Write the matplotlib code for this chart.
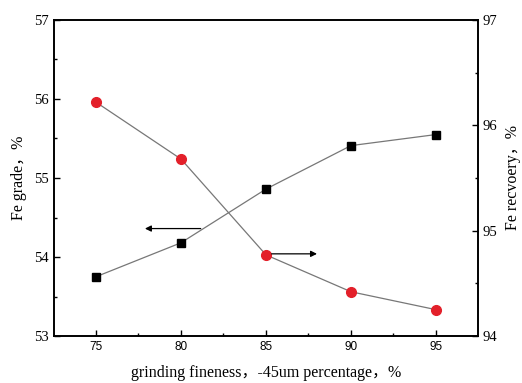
"""
Fe grade / Fe recovery versus grinding fineness, two y axes.
"""

import matplotlib
matplotlib.use("Agg")
import matplotlib.pyplot as plt
from matplotlib.ticker import MultipleLocator

# datos
fineness = [75, 80, 85, 90, 95]
fe_grade = [53.75, 54.18, 54.86, 55.41, 55.55]
fe_recovery = [96.22, 95.68, 94.77, 94.42, 94.25]

SERIF = ["Liberation Serif", "Noto Sans CJK SC"]
SANS = ["Liberation Sans"]

fig = plt.figure(figsize=(5.22, 3.83), dpi=100)
ax = fig.add_axes([0.1034, 0.1227, 0.8123, 0.8251])
ax2 = ax.twinx()

ax.plot(fineness, fe_grade, color="#777777", lw=0.9, marker="s", ms=5.8,
        mfc="black", mec="black", zorder=3)
ax2.plot(fineness, fe_recovery, color="#777777", lw=0.9, marker="o", ms=7,
         mfc="#e3202a", mec="#e3202a", zorder=3)

ax.set_xlim(72.53, 97.47)
ax.set_ylim(53, 57)
ax2.set_ylim(94, 97)

ax.xaxis.set_major_locator(MultipleLocator(5))
ax.xaxis.set_minor_locator(MultipleLocator(2.5))
ax.yaxis.set_major_locator(MultipleLocator(1))
ax.yaxis.set_minor_locator(MultipleLocator(0.5))
ax2.yaxis.set_major_locator(MultipleLocator(1))
ax2.yaxis.set_minor_locator(MultipleLocator(0.5))

for a in (ax, ax2):
    a.tick_params(which="major", direction="in", length=4.5, width=1.0)
    a.tick_params(which="minor", direction="in", length=2.5, width=1.0)
    for s in a.spines.values():
        s.set_linewidth(1.2)
ax.tick_params(axis="x", which="both", top=False)

for lab in ax.get_xticklabels():
    lab.set_fontfamily(SANS)
    lab.set_fontsize(8.5)
for lab in ax.get_yticklabels() + ax2.get_yticklabels():
    lab.set_fontfamily(SERIF)
    lab.set_fontsize(10.5)

ax.set_xlabel("grinding fineness，-45um percentage，%", family=SERIF, fontsize=11.5, labelpad=9)
ax.set_ylabel("Fe grade，%", family=SERIF, fontsize=11.5, labelpad=5)
ax2.set_ylabel("Fe recvoery，%", family=SERIF, fontsize=11.5, labelpad=5)

# flechas que indican el eje de cada serie
ax.annotate("", xy=(77.88, 54.36), xytext=(81.16, 54.36),
            arrowprops=dict(arrowstyle="-|>", color="black", lw=0.9,
                            mutation_scale=9, shrinkA=0, shrinkB=0))
ax2.annotate("", xy=(88.0, 94.78), xytext=(85.33, 94.78),
             arrowprops=dict(arrowstyle="-|>", color="black", lw=0.9,
                             mutation_scale=9, shrinkA=0, shrinkB=0))

fig.savefig("out.png", dpi=100)
